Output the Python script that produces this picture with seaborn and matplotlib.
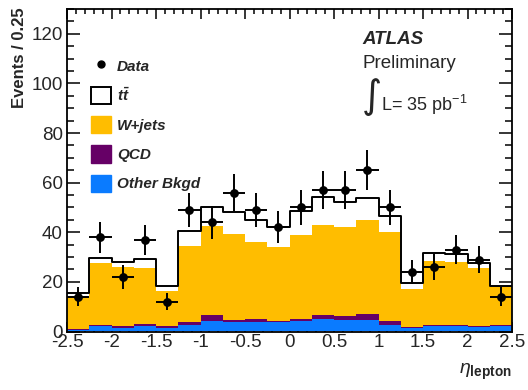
import numpy as np
import pandas as pd
import matplotlib
matplotlib.use("Agg")
import matplotlib.pyplot as plt
from matplotlib.lines import Line2D
from matplotlib.patches import Patch
from matplotlib.ticker import MultipleLocator, FuncFormatter
import seaborn as sns

# Lepton pseudorapidity binning (0.25 wide bins)
eta_range = (-2.5, 2.5)
bin_width = 0.25

# Observed events per bin
data_events = [14, 38, 22, 37, 12, 49, 44, 56, 49, 42,
               50, 57, 57, 65, 50, 24, 26, 33, 29, 14]

# Expected contributions per bin
other_bkgd = [0.8, 2.15, 1.6, 2.3, 1.6, 2.55, 4.4, 3.8, 3.9, 4.0,
              4.4, 5.0, 4.8, 4.6, 2.8, 1.5, 2.15, 2.15, 2.0, 2.4]
qcd = [0.2, 0.65, 0.7, 0.9, 0.55, 1.45, 2.45, 1.0, 1.3, 0.4,
       0.6, 1.6, 1.4, 2.5, 1.6, 0.25, 0.65, 0.4, 0.4, 0.3]
wjets = [13.3, 25.0, 23.8, 22.5, 14.3, 30.5, 35.8, 34.4, 31.0, 29.8,
         33.9, 36.4, 36.1, 37.9, 35.9, 15.3, 25.6, 25.6, 23.3, 15.4]
ttbar = [1.2, 2.0, 2.1, 3.4, 2.0, 6.0, 7.7, 9.1, 8.8, 7.8,
         9.7, 11.1, 9.8, 8.7, 6.4, 2.4, 3.1, 2.9, 2.1, 0.4]

process_names = ["ttbar", "W+jets", "QCD", "Other Bkgd"]
process_colors = {"ttbar": "#ffffff", "W+jets": "#ffbd00",
                  "QCD": "#660066", "Other Bkgd": "#0a7bff"}

edges = np.arange(eta_range[0], eta_range[1] + bin_width / 2, bin_width)
centers = 0.5 * (edges[:-1] + edges[1:])
frames = []
for name, vals in zip(process_names, [ttbar, wjets, qcd, other_bkgd]):
    frames.append(pd.DataFrame({"eta": centers, "events": vals, "process": name}))
mc = pd.concat(frames, ignore_index=True)
total = np.array(ttbar) + np.array(wjets) + np.array(qcd) + np.array(other_bkgd)
tot_df = pd.DataFrame({"eta": centers, "events": total})

sns.set_theme(style="ticks")
plt.rcParams["font.family"] = ["Liberation Sans", "DejaVu Sans"]
plt.rcParams["axes.unicode_minus"] = False
plt.rcParams["mathtext.fontset"] = "custom"
plt.rcParams["mathtext.rm"] = "Liberation Sans"
plt.rcParams["mathtext.it"] = "Liberation Sans:italic"
plt.rcParams["mathtext.bf"] = "Liberation Sans:bold"
plt.rcParams["mathtext.bfit"] = "Liberation Sans:italic:bold"

fig = plt.figure(figsize=(5.28, 3.9), dpi=100)
ax = fig.add_axes([67 / 528, 1 - 331.5 / 390, 445 / 528, 322.5 / 390])

# Stacked expectation (first hue level ends up on top of the stack)
sns.histplot(data=mc, x="eta", weights="events", hue="process",
             hue_order=process_names, palette=process_colors,
             binwidth=bin_width, binrange=eta_range,
             multiple="stack", element="step", fill=True,
             alpha=1, linewidth=0, legend=False, ax=ax)

# Outline of the total expectation
sns.histplot(data=tot_df, x="eta", weights="events",
             binwidth=bin_width, binrange=eta_range, element="step",
             fill=False, color="black", linewidth=1.4, ax=ax)

# Data with Poisson errors
data_arr = np.array(data_events, dtype=float)
ax.errorbar(centers, data_arr, xerr=bin_width / 2, yerr=np.sqrt(data_arr),
            fmt="none", ecolor="black", elinewidth=1.4, capsize=0, zorder=5)
sns.scatterplot(x=centers, y=data_arr, color="black", s=40,
                edgecolor="black", linewidth=0, zorder=6, ax=ax)

ax.set_xlim(*eta_range)
ax.set_ylim(0, 130)
ax.set_xlabel("")
ax.set_ylabel("")
fig.text(19.5 / 528, 1 - 7 / 390, "Events / 0.25", fontsize=12,
         fontweight="bold", rotation=90, ha="center", va="top")

ax.xaxis.set_major_locator(MultipleLocator(0.5))
ax.xaxis.set_minor_locator(MultipleLocator(0.1))
ax.yaxis.set_major_locator(MultipleLocator(20))
ax.yaxis.set_minor_locator(MultipleLocator(5))
ax.xaxis.set_major_formatter(FuncFormatter(lambda v, p: f"{v:g}"))
ax.yaxis.set_major_formatter(FuncFormatter(lambda v, p: f"{v:g}"))
ax.tick_params(which="both", direction="in", top=True, right=True,
               width=1.1, color="black", labelsize=13.5)
ax.tick_params(axis="x", which="major", length=7, pad=2)
ax.tick_params(axis="x", which="minor", length=3.5)
ax.tick_params(axis="y", which="major", length=9.5, pad=3)
ax.tick_params(axis="y", which="minor", length=4.8)
for sp in ax.spines.values():
    sp.set_visible(True)
    sp.set_linewidth(1.3)
    sp.set_color("black")

# Legend
handles = [
    Line2D([], [], marker="o", color="black", linestyle="none", markersize=5),
    Patch(facecolor=process_colors["ttbar"], edgecolor="black", linewidth=1.4),
    Patch(facecolor=process_colors["W+jets"], edgecolor=process_colors["W+jets"]),
    Patch(facecolor=process_colors["QCD"], edgecolor=process_colors["QCD"]),
    Patch(facecolor=process_colors["Other Bkgd"], edgecolor=process_colors["Other Bkgd"]),
]
labels = ["Data", r"$\mathbfit{t\bar{t}}$", "W+jets", "QCD", "Other Bkgd"]
fig.legend(handles, labels, loc="upper left",
           bbox_to_anchor=(91 / 528, 1 - 57 / 390), bbox_transform=fig.transFigure,
           frameon=False, borderpad=0, borderaxespad=0,
           handlelength=1.3, handleheight=1.37, handletextpad=0.4,
           labelspacing=0.78,
           prop={"size": 11, "weight": "bold", "style": "italic"})

# Experiment labels
fig.text(362 / 528, 1 - 40 / 390, "ATLAS", fontsize=13.5, fontweight="bold",
         fontstyle="italic", va="center", ha="left")
fig.text(362 / 528, 1 - 64 / 390, "Preliminary", fontsize=13.5,
         va="center", ha="left")
fig.text(362 / 528, 1 - 97 / 390, "\u222b", fontsize=28, va="center",
         ha="left", family=["DejaVu Sans"])
fig.text(381 / 528, 1 - 105 / 390, r"L= 35 pb$^{\mathregular{-1}}$",
         fontsize=13, va="center", ha="left")

# Axis title
fig.text(512 / 528, 1 - 372 / 390, r"$\eta_{\mathbf{lepton}}$",
         fontsize=14, va="center", ha="right")

fig.savefig("out.png", dpi=100)
